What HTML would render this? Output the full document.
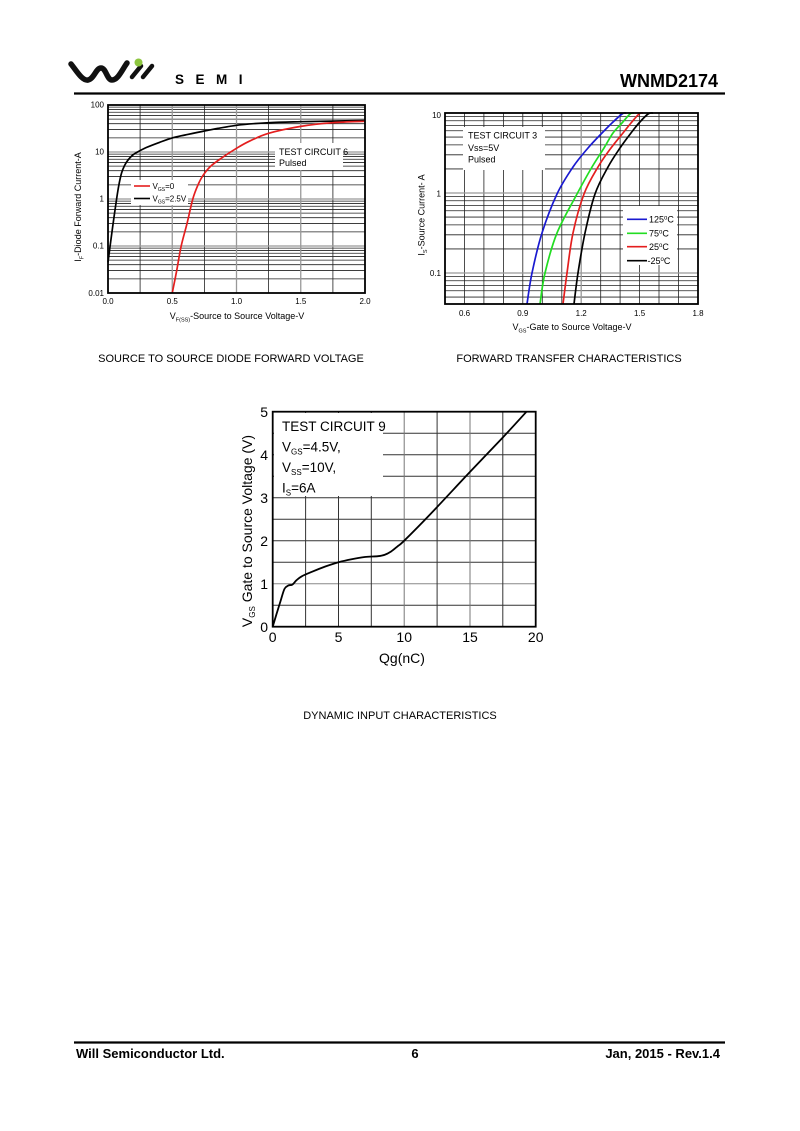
<!DOCTYPE html>
<html><head><meta charset="utf-8"><style>
html,body{margin:0;padding:0;background:#fff;}
svg{display:block;}
text{font-family:"Liberation Sans",Arial,sans-serif;fill:#000;}
</style></head><body>
<svg id="pg" width="800" height="1131" viewBox="0 0 800 1131" xmlns="http://www.w3.org/2000/svg">
<rect width="800" height="1131" fill="#fff"/>

<!-- HEADER -->
<path d="M71,64 C76,70 82,81 88,80 C94,79 96,68 101,68 C106,68 107,80 112,80 C118,80 122,70 127,63" fill="none" stroke="#111" stroke-width="5.5" stroke-linecap="round"/>
<line x1="132" y1="77" x2="141" y2="66" stroke="#111" stroke-width="4.5" stroke-linecap="round"/>
<line x1="143" y1="77" x2="152" y2="66" stroke="#111" stroke-width="4.5" stroke-linecap="round"/>
<circle cx="138.5" cy="62.5" r="4" fill="#8dc63f"/>
<text x="175" y="84" font-size="13.5" font-weight="bold" letter-spacing="11.5" fill="#222">SEMI</text>
<text x="718" y="87" font-size="18" font-weight="bold" text-anchor="end">WNMD2174</text>
<line x1="74" y1="93.5" x2="725" y2="93.5" stroke="#000" stroke-width="2.2"/>

<!-- CHART 1 -->
<g>
<rect x="108" y="105" width="257" height="188" fill="#fff"/>
<g stroke="#222" stroke-width="0.8">
<line x1="108" x2="365" y1="278.85" y2="278.85"/><line x1="108" x2="365" y1="270.58" y2="270.58"/><line x1="108" x2="365" y1="264.7" y2="264.7"/><line x1="108" x2="365" y1="260.15" y2="260.15"/><line x1="108" x2="365" y1="256.43" y2="256.43"/><line x1="108" x2="365" y1="253.28" y2="253.28"/><line x1="108" x2="365" y1="250.55" y2="250.55"/><line x1="108" x2="365" y1="248.15" y2="248.15"/>
<line x1="108" x2="365" y1="231.85" y2="231.85"/><line x1="108" x2="365" y1="223.58" y2="223.58"/><line x1="108" x2="365" y1="217.7" y2="217.7"/><line x1="108" x2="365" y1="213.15" y2="213.15"/><line x1="108" x2="365" y1="209.43" y2="209.43"/><line x1="108" x2="365" y1="206.28" y2="206.28"/><line x1="108" x2="365" y1="203.55" y2="203.55"/><line x1="108" x2="365" y1="201.15" y2="201.15"/>
<line x1="108" x2="365" y1="184.85" y2="184.85"/><line x1="108" x2="365" y1="176.58" y2="176.58"/><line x1="108" x2="365" y1="170.7" y2="170.7"/><line x1="108" x2="365" y1="166.15" y2="166.15"/><line x1="108" x2="365" y1="162.43" y2="162.43"/><line x1="108" x2="365" y1="159.28" y2="159.28"/><line x1="108" x2="365" y1="156.55" y2="156.55"/><line x1="108" x2="365" y1="154.15" y2="154.15"/>
<line x1="108" x2="365" y1="137.85" y2="137.85"/><line x1="108" x2="365" y1="129.58" y2="129.58"/><line x1="108" x2="365" y1="123.7" y2="123.7"/><line x1="108" x2="365" y1="119.15" y2="119.15"/><line x1="108" x2="365" y1="115.43" y2="115.43"/><line x1="108" x2="365" y1="112.28" y2="112.28"/><line x1="108" x2="365" y1="109.55" y2="109.55"/><line x1="108" x2="365" y1="107.15" y2="107.15"/>
<line x1="140.1" x2="140.1" y1="105" y2="293"/><line x1="204.4" x2="204.4" y1="105" y2="293"/><line x1="268.6" x2="268.6" y1="105" y2="293"/><line x1="332.9" x2="332.9" y1="105" y2="293"/>
</g>
<g stroke="#999" stroke-width="1.3">
<line x1="108" x2="365" y1="246" y2="246"/><line x1="108" x2="365" y1="199" y2="199"/><line x1="108" x2="365" y1="152" y2="152"/>
<line x1="172.25" x2="172.25" y1="105" y2="293"/><line x1="236.5" x2="236.5" y1="105" y2="293"/><line x1="300.75" x2="300.75" y1="105" y2="293"/>
</g>
<rect x="275" y="143" width="68" height="27" fill="#fff"/>
<text x="279" y="155" font-size="9">TEST CIRCUIT 6</text>
<text x="279" y="166" font-size="9">Pulsed</text>
<rect x="131" y="180" width="57" height="25" fill="#fff"/>
<line x1="134" y1="186" x2="150" y2="186" stroke="#e41e1e" stroke-width="1.6"/>
<line x1="134" y1="198.5" x2="150" y2="198.5" stroke="#000" stroke-width="1.6"/>
<text x="152.5" y="189" font-size="8">V<tspan font-size="5" dy="2">GS</tspan><tspan dy="-2">=0</tspan></text>
<text x="152.5" y="201.5" font-size="8">V<tspan font-size="5" dy="2">GS</tspan><tspan dy="-2">=2.5V</tspan></text>
<polyline class="sm" fill="none" stroke="#000" stroke-width="1.7" stroke-linejoin="round" points="108,262.3 110.1,246 113.1,223.6 116.6,199 118.9,184.9 121.6,172.9 124.7,165.3 127.9,160.2 132.4,155.3 137.6,152 146.6,147.4 159.4,142.4 172.25,137.9 185.1,135 204.4,131 236.5,125.3 268.6,122.7 300.75,121.7 332.9,121.1 365,120.6"/>
<polyline class="sm" fill="none" stroke="#e41e1e" stroke-width="1.7" stroke-linejoin="round" points="172.25,293 176.7,270.6 181.2,246 187,223.6 192.8,199 198,184.9 203.1,175.3 210.8,166.1 223.7,156.6 236.5,148.3 249.4,141.2 268.6,133.3 300.75,126.4 332.9,122.7 365,121.3"/>
<rect x="108" y="105" width="257" height="188" fill="none" stroke="#000" stroke-width="1.8"/>
<g font-size="8" text-anchor="end">
<text x="104" y="107.5">100</text><text x="104" y="154.5">10</text><text x="104" y="201.5">1</text><text x="104" y="248.5">0.1</text><text x="104" y="296">0.01</text>
</g>
<g font-size="8" text-anchor="middle">
<text x="108" y="304">0.0</text><text x="172.25" y="304">0.5</text><text x="236.5" y="304">1.0</text><text x="300.75" y="304">1.5</text><text x="365" y="304">2.0</text>
</g>
<text x="237" y="319" font-size="9" text-anchor="middle">V<tspan font-size="5.5" dy="2.5">F(SS)</tspan><tspan dy="-2.5">-Source to Source Voltage-V</tspan></text>
<text transform="translate(81,207) rotate(-90)" font-size="9" text-anchor="middle">I<tspan font-size="5.5" dy="2.5">F</tspan><tspan dy="-2.5">-Diode Forward Current-A</tspan></text>
<text x="231" y="362" font-size="11" text-anchor="middle">SOURCE TO SOURCE DIODE FORWARD VOLTAGE</text>
</g>

<!-- CHART 2 -->
<g>
<rect x="445" y="113" width="253" height="191" fill="#fff"/>
<g stroke="#222" stroke-width="0.8">
<line x1="445" x2="698" y1="297.08" y2="297.08"/><line x1="445" x2="698" y1="290.75" y2="290.75"/><line x1="445" x2="698" y1="285.39" y2="285.39"/><line x1="445" x2="698" y1="280.75" y2="280.75"/><line x1="445" x2="698" y1="276.66" y2="276.66"/>
<line x1="445" x2="698" y1="248.92" y2="248.92"/><line x1="445" x2="698" y1="234.83" y2="234.83"/><line x1="445" x2="698" y1="224.84" y2="224.84"/><line x1="445" x2="698" y1="217.08" y2="217.08"/><line x1="445" x2="698" y1="210.75" y2="210.75"/><line x1="445" x2="698" y1="205.39" y2="205.39"/><line x1="445" x2="698" y1="200.75" y2="200.75"/><line x1="445" x2="698" y1="196.66" y2="196.66"/>
<line x1="445" x2="698" y1="168.92" y2="168.92"/><line x1="445" x2="698" y1="154.83" y2="154.83"/><line x1="445" x2="698" y1="144.84" y2="144.84"/><line x1="445" x2="698" y1="137.08" y2="137.08"/><line x1="445" x2="698" y1="130.75" y2="130.75"/><line x1="445" x2="698" y1="125.39" y2="125.39"/><line x1="445" x2="698" y1="120.75" y2="120.75"/><line x1="445" x2="698" y1="116.66" y2="116.66"/>
<line x1="464.5" x2="464.5" y1="113" y2="304"/><line x1="483.9" x2="483.9" y1="113" y2="304"/><line x1="503.4" x2="503.4" y1="113" y2="304"/><line x1="522.8" x2="522.8" y1="113" y2="304"/><line x1="542.3" x2="542.3" y1="113" y2="304"/><line x1="561.8" x2="561.8" y1="113" y2="304"/><line x1="600.7" x2="600.7" y1="113" y2="304"/><line x1="620.1" x2="620.1" y1="113" y2="304"/><line x1="639.6" x2="639.6" y1="113" y2="304"/><line x1="659" x2="659" y1="113" y2="304"/><line x1="678.5" x2="678.5" y1="113" y2="304"/>
</g>
<g stroke="#999" stroke-width="1.3">
<line x1="445" x2="698" y1="273" y2="273"/><line x1="445" x2="698" y1="193" y2="193"/>
<line x1="581.2" x2="581.2" y1="113" y2="304"/>
</g>
<rect x="463" y="127" width="82" height="43" fill="#fff"/>
<text x="468" y="138.5" font-size="9">TEST CIRCUIT 3</text>
<text x="468" y="151" font-size="9">Vss=5V</text>
<text x="468" y="162.5" font-size="9">Pulsed</text>
<polyline class="sm" fill="none" stroke="#1a1ad0" stroke-width="1.7" stroke-linejoin="round" points="527,304 532,273 542,233 557,194 573,167 588,148 602,133 612,123 622,114 626,113"/>
<polyline class="sm" fill="none" stroke="#22dd22" stroke-width="1.7" stroke-linejoin="round" points="540,304 545,273 557,233 577,194 592,167 604,148 613,133 622,123 630,114 634,113"/>
<polyline class="sm" fill="none" stroke="#e41e1e" stroke-width="1.7" stroke-linejoin="round" points="563,304 567,273 573,233 584,194 598,167 611,148 623,133 631,123 639,114 643,113"/>
<polyline class="sm" fill="none" stroke="#000" stroke-width="1.7" stroke-linejoin="round" points="574,304 578,273 585,233 595,194 608,167 620,148 631,133 639,123 648,114 653,113"/>
<rect x="623" y="206" width="54" height="59" fill="#fff"/>
<line x1="627" y1="219.3" x2="647" y2="219.3" stroke="#1a1ad0" stroke-width="1.6"/>
<line x1="627" y1="233.3" x2="647" y2="233.3" stroke="#22dd22" stroke-width="1.6"/>
<line x1="627" y1="246.7" x2="647" y2="246.7" stroke="#e41e1e" stroke-width="1.6"/>
<line x1="627" y1="260.7" x2="647" y2="260.7" stroke="#000" stroke-width="1.6"/>
<g font-size="9">
<text x="649" y="222.5">125<tspan font-size="6" dy="-3">o</tspan><tspan dy="3">C</tspan></text>
<text x="649" y="236.5">75<tspan font-size="6" dy="-3">o</tspan><tspan dy="3">C</tspan></text>
<text x="649" y="250">25<tspan font-size="6" dy="-3">o</tspan><tspan dy="3">C</tspan></text>
<text x="647.5" y="264">-25<tspan font-size="6" dy="-3">o</tspan><tspan dy="3">C</tspan></text>
</g>
<rect x="445" y="113" width="253" height="191" fill="none" stroke="#000" stroke-width="1.8"/>
<g font-size="8" text-anchor="end">
<text x="441" y="118">10</text><text x="441" y="196.5">1</text><text x="441" y="276">0.1</text>
</g>
<g font-size="8" text-anchor="middle">
<text x="464.5" y="316">0.6</text><text x="522.8" y="316">0.9</text><text x="581.2" y="316">1.2</text><text x="639.6" y="316">1.5</text><text x="698" y="316">1.8</text>
</g>
<text x="572" y="330" font-size="9" text-anchor="middle">V<tspan font-size="5.5" dy="2.5">GS</tspan><tspan dy="-2.5">-Gate to Source Voltage-V</tspan></text>
<text transform="translate(424.5,215) rotate(-90)" font-size="9" text-anchor="middle">I<tspan font-size="5.5" dy="2.5">S</tspan><tspan dy="-2.5">-Source Current- A</tspan></text>
<text x="569" y="362" font-size="11" text-anchor="middle">FORWARD TRANSFER CHARACTERISTICS</text>
</g>

<!-- CHART 3 -->
<g>
<rect x="272.7" y="411.7" width="263" height="215" fill="#fff"/>
<g stroke="#333" stroke-width="1">
<line x1="272.7" x2="535.7" y1="605.2" y2="605.2"/><line x1="272.7" x2="535.7" y1="583.7" y2="583.7" stroke="#888"/><line x1="272.7" x2="535.7" y1="562.2" y2="562.2"/><line x1="272.7" x2="535.7" y1="540.7" y2="540.7"/><line x1="272.7" x2="535.7" y1="519.2" y2="519.2"/><line x1="272.7" x2="535.7" y1="497.7" y2="497.7"/><line x1="272.7" x2="535.7" y1="476.2" y2="476.2"/><line x1="272.7" x2="535.7" y1="454.7" y2="454.7"/><line x1="272.7" x2="535.7" y1="433.2" y2="433.2"/>
<line x1="305.6" x2="305.6" y1="411.7" y2="626.7"/><line x1="338.5" x2="338.5" y1="411.7" y2="626.7"/><line x1="371.3" x2="371.3" y1="411.7" y2="626.7"/><line x1="404.2" x2="404.2" y1="411.7" y2="626.7" stroke="#777"/><line x1="437.1" x2="437.1" y1="411.7" y2="626.7"/><line x1="470" x2="470" y1="411.7" y2="626.7" stroke="#777"/><line x1="502.8" x2="502.8" y1="411.7" y2="626.7"/>
</g>
<rect x="274" y="413" width="109" height="83" fill="#fff"/>
<g font-size="13.5">
<text x="282" y="431">TEST CIRCUIT 9</text>
<text x="282" y="451.5">V<tspan font-size="8" dy="3">GS</tspan><tspan dy="-3">=4.5V,</tspan></text>
<text x="282" y="472">V<tspan font-size="8" dy="3">SS</tspan><tspan dy="-3">=10V,</tspan></text>
<text x="282" y="492.5">I<tspan font-size="8" dy="3">S</tspan><tspan dy="-3">=6A</tspan></text>
</g>
<polyline class="sm" fill="none" stroke="#000" stroke-width="1.8" stroke-linejoin="round" points="272.7,626.7 276.6,613.8 280.6,600.9 284.5,588.9 288.5,585.4 292.4,584.6 296.4,580.3 301.6,576.4 312.2,571.7 325.3,566.5 338.5,562.2 351.6,559.2 364.8,557 377.9,556.2 384.5,554.9 391.1,551.5 397.6,546.3 404.2,540.7 430.5,514 470,471.9 502.8,437.5 526.5,411.7"/>
<rect x="272.7" y="411.7" width="263" height="215" fill="none" stroke="#000" stroke-width="1.8"/>
<g font-size="14" text-anchor="end">
<text x="268" y="417">5</text><text x="268" y="460">4</text><text x="268" y="503">3</text><text x="268" y="546">2</text><text x="268" y="589">1</text><text x="268" y="632">0</text>
</g>
<g font-size="14" text-anchor="middle">
<text x="272.7" y="642">0</text><text x="338.5" y="642">5</text><text x="404.2" y="642">10</text><text x="470" y="642">15</text><text x="535.7" y="642">20</text>
</g>
<text x="402" y="663" font-size="14" text-anchor="middle">Qg(nC)</text>
<text transform="translate(252,531) rotate(-90)" font-size="14" text-anchor="middle">V<tspan font-size="8" dy="3">GS</tspan><tspan dy="-3"> Gate to Source Voltage (V)</tspan></text>
<text x="400" y="719" font-size="11" text-anchor="middle">DYNAMIC INPUT CHARACTERISTICS</text>
</g>

<!-- FOOTER -->
<line x1="74" y1="1042.5" x2="725" y2="1042.5" stroke="#000" stroke-width="2.2"/>
<text x="76" y="1058" font-size="13" font-weight="bold">Will Semiconductor Ltd.</text>
<text x="415" y="1058" font-size="13" font-weight="bold" text-anchor="middle">6</text>
<text x="720" y="1058" font-size="13" font-weight="bold" text-anchor="end">Jan, 2015 - Rev.1.4</text>
</svg>
<script>
(function(){
  var ns="http://www.w3.org/2000/svg";
  var pls=document.querySelectorAll("polyline.sm");
  for(var i=0;i<pls.length;i++){
    var pl=pls[i];
    var pts=pl.getAttribute("points").trim().split(/\s+/).map(function(s){var a=s.split(",");return [parseFloat(a[0]),parseFloat(a[1])];});
    var d="M"+pts[0][0]+","+pts[0][1];
    for(var j=0;j<pts.length-1;j++){
      var p0=pts[j>0?j-1:j],p1=pts[j],p2=pts[j+1],p3=pts[j+2<pts.length?j+2:j+1];
      var c1x=p1[0]+(p2[0]-p0[0])/6,c1y=p1[1]+(p2[1]-p0[1])/6;
      var c2x=p2[0]-(p3[0]-p1[0])/6,c2y=p2[1]-(p3[1]-p1[1])/6;
      d+=" C"+c1x.toFixed(2)+","+c1y.toFixed(2)+" "+c2x.toFixed(2)+","+c2y.toFixed(2)+" "+p2[0]+","+p2[1];
    }
    var path=document.createElementNS(ns,"path");
    path.setAttribute("d",d);
    ["fill","stroke","stroke-width","stroke-linejoin"].forEach(function(a){path.setAttribute(a,pl.getAttribute(a));});
    pl.parentNode.replaceChild(path,pl);
  }
})();
</script>
</body></html>
